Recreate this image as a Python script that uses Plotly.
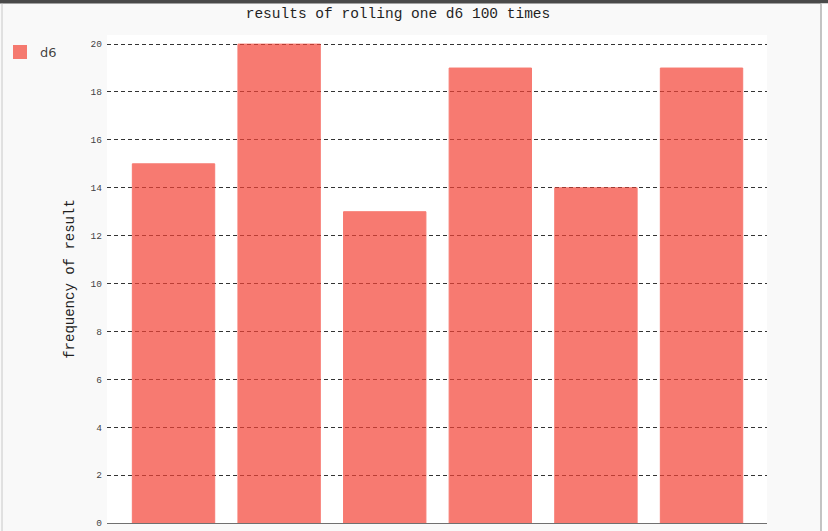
import plotly.graph_objects as go

# Data
faces = [1, 2, 3, 4, 5, 6]
frequencies = [15, 20, 13, 19, 14, 19]
y_ticks = [0, 2, 4, 6, 8, 10, 12, 14, 16, 18, 20]

MONO = "Liberation Mono, DejaVu Sans Mono, monospace"

fig = go.Figure()
fig.add_trace(go.Bar(
    x=[f - 1 for f in faces],
    y=frequencies,
    name="d6",
    width=0.78,
    marker=dict(color="#F44336", line=dict(color="#F44336", width=1)),
    opacity=0.7,
))

W, H = 828, 531
L, R, T, B = 107, 61, 35, 8
pw, ph = W - L - R, H - T - B


def px_x(px):
    return (px - L) / pw


def px_y(py):
    return (H - B - py) / ph


fig.update_layout(
    width=W, height=H,
    margin=dict(l=L, r=R, t=T, b=B, autoexpand=False),
    paper_bgcolor="#f9f9f9",
    plot_bgcolor="#ffffff",
    title=dict(
        text="results of rolling one d6 100 times",
        x=398 / W, xref="container", xanchor="center",
        y=1 - 13 / H, yref="container", yanchor="middle",
        font=dict(family=MONO, size=14.5, color="rgba(0,0,0,0.87)"),
    ),
    showlegend=True,
    legend=dict(
        x=0, y=1 - 37 / H, xref="container", yref="container",
        xanchor="left", yanchor="top",
        bgcolor="rgba(0,0,0,0)",
        font=dict(family="DejaVu Sans, sans-serif", size=13, color="rgba(0,0,0,0.75)"),
        itemsizing="constant",
    ),
    xaxis=dict(
        range=[-0.63, 5.62],
        showticklabels=False,
        showgrid=False,
        zeroline=False,
        showline=True,
        linecolor="rgba(0,0,0,0.55)",
        linewidth=1.2,
        ticks="",
        automargin=False,
    ),
    yaxis=dict(
        range=[0, 20.38],
        tickvals=y_ticks,
        ticktext=[str(v) for v in y_ticks],
        tickfont=dict(family=MONO, size=9.5, color="rgba(40,40,40,0.9)"),
        ticks="",
        ticklabelstandoff=4,
        showgrid=True,
        gridcolor="rgba(0,0,0,0.8)",
        gridwidth=1,
        griddash="4px,3px",
        zeroline=False,
        automargin=False,
        title=dict(
            text="frequency of result",
            font=dict(family=MONO, size=14, color="rgba(0,0,0,0.87)"),
            standoff=25,
        ),
    ),
    bargap=0.22,
)

# Screenshot frame
fig.add_shape(type="rect", xref="paper", yref="paper",
              x0=px_x(0), x1=px_x(W), y0=px_y(3.5), y1=px_y(0),
              fillcolor="#4a4a4a", line_width=0, layer="above")
fig.add_shape(type="rect", xref="paper", yref="paper",
              x0=px_x(821), x1=px_x(W), y0=px_y(H), y1=px_y(3.5),
              fillcolor="#ffffff", line_width=0, layer="above")
fig.add_shape(type="line", xref="paper", yref="paper",
              x0=px_x(821), x1=px_x(821), y0=px_y(H), y1=px_y(3.5),
              line=dict(color="#b0b0b0", width=1.5), layer="above")
fig.add_shape(type="line", xref="paper", yref="paper",
              x0=px_x(2), x1=px_x(2), y0=px_y(H), y1=px_y(3.5),
              line=dict(color="#c8c8c8", width=1), layer="above")

fig.write_html(
    "out.html",
    config={"displayModeBar": False},
    post_script="document.body.style.margin='0';document.body.style.overflow='hidden';",
)
